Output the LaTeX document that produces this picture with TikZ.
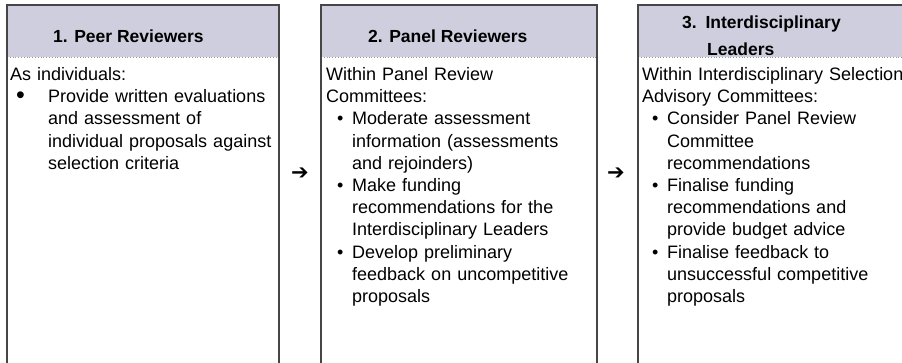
\documentclass[tikz,border=0pt]{standalone}
\usepackage{fontspec}
\setmainfont{Liberation Sans}
\newfontfamily\symfont{DejaVu Sans}
\definecolor{headfill}{RGB}{206,206,222}
\definecolor{boxline}{RGB}{70,70,70}
\newcommand{\bitem}[4][\textbullet]{\par\hangindent=#3\hangafter=0\noindent\llap{\makebox[#3][l]{\hspace{#2}#1}}#4\par}
\newcommand{\bigbul}{\raisebox{-1pt}{\fontsize{25}{22}\selectfont\textbullet}}

\begin{document}
\begin{tikzpicture}[x=1pt, y=-1pt,
    headtext/.style={anchor=base west, inner sep=0pt, font=\bfseries\fontsize{17.5}{27}\selectfont},
    body/.style={anchor=base west, inner sep=0pt, align=left, font=\fontsize{18}{22.2}\selectfont},
    arrowglyph/.style={inner sep=0pt, font=\symfont\bfseries\fontsize{21}{21}\selectfont}]
\clip (0,0) rectangle (902,362);
% boxes

\foreach \l/\r in {7/279, 321/597, 638/910}
{
    \fill[headfill] (\l,5) rectangle (\r,57);
    \draw[gray!80, dotted, line width=0.8pt] (\l,57) -- (\r,57);
    \draw[boxline, line width=1.5pt] (\l,365) -- (\l,5) -- (\r,5) -- (\r,365);
}

% headers
\node[headtext] (h1) at (53,42) {1. Peer Reviewers};
\node[headtext] (h2) at (368,42) {2. Panel Reviewers};
\node[headtext, text width=200pt, align=left] (h3) at (682,28) {3. Interdisciplinary\newline\hspace*{25pt}Leaders};

% arrows
\node[arrowglyph] (a12) at (300,174) {➔};
\node[arrowglyph] (a23) at (616,174) {➔};

% body text
\node[body, text width=266pt] (b1) at (10,80.5) {As individuals:
\bitem[\bigbul]{6pt}{38pt}{Provide written evaluations\newline and assessment of\newline individual proposals against\newline selection criteria}};

\node[body, text width=270pt] (b2) at (326,80.5) {Within Panel Review\newline Committees:
\bitem{11pt}{26pt}{Moderate assessment\newline information (assessments\newline and rejoinders)}
\bitem{11pt}{26pt}{Make funding\newline recommendations for the\newline Interdisciplinary Leaders}
\bitem{11pt}{26pt}{Develop preliminary\newline feedback on uncompetitive\newline proposals}};

\node[body, text width=262pt] (b3) at (642,80.5) {Within Interdisciplinary Selection\newline Advisory Committees:
\bitem{10pt}{25pt}{Consider Panel Review\newline Committee\newline recommendations}
\bitem{10pt}{25pt}{Finalise funding\newline recommendations and\newline provide budget advice}
\bitem{10pt}{25pt}{Finalise feedback to\newline unsuccessful competitive\newline proposals}};
\end{tikzpicture}
\end{document}
